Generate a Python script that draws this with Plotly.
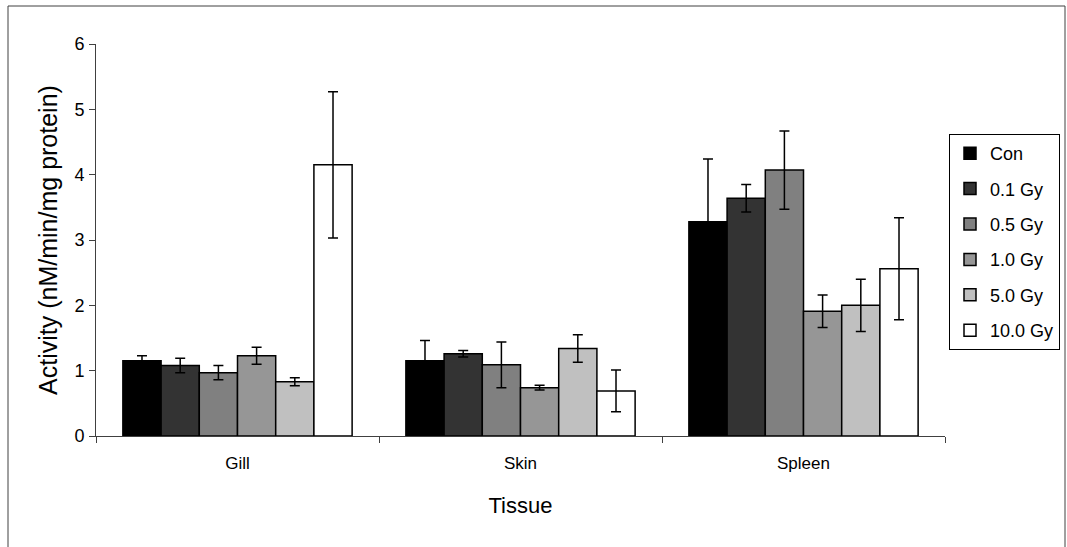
import plotly.graph_objects as go

# Tissue categories and dose groups
tissues = ["Gill", "Skin", "Spleen"]
doses = ["Con", "0.1 Gy", "0.5 Gy", "1.0 Gy", "5.0 Gy", "10.0 Gy"]

# Mean activity per dose, ordered Gill, Skin, Spleen
con_mean = [1.15, 1.15, 3.28]
gy01_mean = [1.08, 1.26, 3.64]
gy05_mean = [0.97, 1.09, 4.07]
gy10_mean = [1.23, 0.74, 1.91]
gy50_mean = [0.83, 1.34, 2.00]
gy100_mean = [4.15, 0.69, 2.56]

# Error (± SD) per dose, ordered Gill, Skin, Spleen
con_err = [0.08, 0.31, 0.96]
gy01_err = [0.11, 0.05, 0.21]
gy05_err = [0.11, 0.35, 0.60]
gy10_err = [0.13, 0.035, 0.25]
gy50_err = [0.06, 0.21, 0.40]
gy100_err = [1.12, 0.32, 0.78]

means = [con_mean, gy01_mean, gy05_mean, gy10_mean, gy50_mean, gy100_mean]
errs = [con_err, gy01_err, gy05_err, gy10_err, gy50_err, gy100_err]
fills = ["#000000", "#333333", "#808080", "#969696", "#c0c0c0", "#ffffff"]

FONT = "Liberation Sans, Arial, sans-serif"

fig = go.Figure()
for name, m, e, c in zip(doses, means, errs, fills):
    fig.add_trace(go.Bar(
        name=name, x=tissues, y=m, legendgroup=name,
        marker=dict(color=c, line=dict(color="#000000", width=1.5)),
        error_y=dict(type="data", array=e, visible=True,
                     color="#000000", thickness=1.5, width=5),
    ))

W, H = 1067, 547
L, R, T, B = 96, 945, 44, 436
pw, ph = R - L, B - T

def px_x(x):
    return (x - L) / pw

def px_y(y):
    return (B - y) / ph

fig.update_layout(
    width=W, height=H,
    margin=dict(l=L, r=W - R, t=T, b=H - B, pad=0, autoexpand=False),
    paper_bgcolor="white", plot_bgcolor="white",
    barmode="group", bargap=0.19, bargroupgap=0,
    font=dict(family=FONT, color="#000000", size=18),
    showlegend=True,
    legend=dict(
        x=px_x(1060), y=px_y(134), xanchor="right", yanchor="top",
        bordercolor="#000000", borderwidth=1, bgcolor="white",
        font=dict(size=18, family=FONT),
        traceorder="grouped", itemwidth=30, tracegroupgap=9,
    ),
    xaxis=dict(
        showline=True, linecolor="#404040", linewidth=1,
        ticks="outside", ticklen=6, tickcolor="#404040",
        tickson="boundaries", showgrid=False,
        tickfont=dict(size=17, family=FONT),
        ticklabelstandoff=12,
        title=dict(text="Tissue", font=dict(size=22, family=FONT), standoff=25),
    ),
    yaxis=dict(
        range=[0, 6], dtick=1, showline=True, linecolor="#404040", linewidth=1,
        ticks="outside", ticklen=6, tickcolor="#404040", showgrid=False,
        zeroline=False,
        tickfont=dict(size=18, family=FONT),
        ticklabelstandoff=1,
        title=dict(text="Activity (nM/min/mg protein)",
                   font=dict(size=25, family=FONT), standoff=9),
    ),
    shapes=[dict(
        type="rect", xref="paper", yref="paper",
        x0=px_x(8), x1=px_x(1065), y0=px_y(600), y1=px_y(6),
        line=dict(color="#404040", width=1), fillcolor="rgba(0,0,0,0)",
        layer="below",
    )],
)

fig.write_html("out.html")
